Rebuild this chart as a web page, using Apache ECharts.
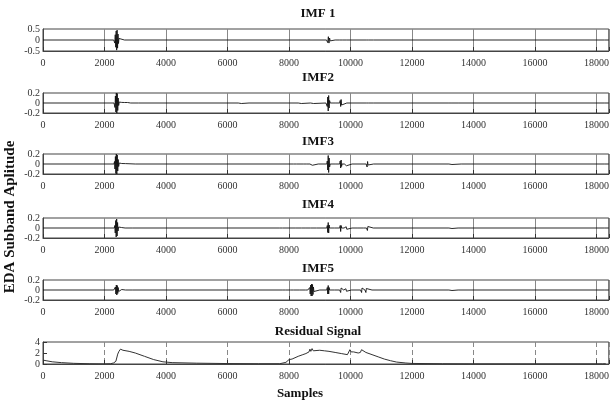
<!DOCTYPE html>
<html>
<head>
<meta charset="utf-8">
<script src="https://cdn.jsdelivr.net/npm/echarts@6/dist/echarts.min.js"></script>
<style>
  html, body { margin: 0; padding: 0; background: #fff; }
  #chart { width: 612px; height: 401px; }
</style>
</head>
<body>
<div id="chart"></div>
<script>
// sub-plot titles
const panelTitles = ["IMF 1", "IMF2", "IMF3", "IMF4", "IMF5", "Residual Signal"];
const xTicks = [0, 2000, 4000, 6000, 8000, 10000, 12000, 14000, 16000, 18000];

// [sample, amplitude]
const imf1 = [
  [0, 0], [2300, 0], [2320, 0.06], [2335, -0.14], [2350, 0.24], [2365, -0.33], [2380, 0.41], [2395, -0.46],
  [2410, 0.45], [2425, -0.37], [2440, 0.27], [2455, -0.16], [2470, 0.07], [2490, 0], [2650, 0],
  [9220, 0], [9240, 0.06], [9260, -0.12], [9280, 0.15], [9300, -0.14], [9320, 0.09], [9340, -0.04], [9360, 0], [9500, 0],
  [9650, 0], [9670, 0.08], [9690, -0.09], [9710, 0.06], [9730, 0], [9880, 0],
  [10510, 0], [10530, 0.06], [10550, -0.06], [10570, 0.03], [10590, 0], [10750, 0],
  [18260, 0], [18280, 0.06], [18300, -0.06], [18320, 0], [18400, 0]
];
const imf2 = [
  [0, 0], [2310, 0], [2325, 0.04], [2340, -0.09], [2355, 0.14], [2370, -0.18], [2385, 0.2], [2400, -0.2],
  [2415, 0.19], [2430, -0.15], [2445, 0.1], [2460, -0.05], [2480, 0.02], [2500, 0], [2550, 0.012],
  [2600, -0.012], [2650, 0.01], [2700, -0.01], [2750, 0.01], [2800, -0.008], [2850, 0], [3100, 0],
  [6350, 0], [6400, 0.012], [6450, -0.01], [6500, 0], [6700, 0],
  [8300, 0], [8350, 0.01], [8400, -0.01], [8450, 0], [8700, 0], [8750, 0.01], [8800, -0.01], [8850, 0], [9200, 0],
  [9230, 0.03], [9245, -0.07], [9260, 0.12], [9275, -0.16], [9290, 0.15], [9305, -0.1], [9320, 0.05], [9340, 0], [9500, 0],
  [9650, 0], [9665, 0.05], [9680, -0.07], [9695, 0.07], [9710, -0.04], [9725, 0], [9880, 0],
  [10510, 0], [10530, 0.03], [10550, -0.035], [10570, 0.02], [10590, 0], [10740, 0],
  [13200, 0], [13250, 0.008], [13300, 0], [13500, 0],
  [18270, 0], [18290, 0.02], [18310, -0.02], [18330, 0], [18400, 0]
];
const imf3 = [
  [0, 0], [2310, 0], [2325, 0.05], [2340, -0.1], [2355, 0.15], [2370, -0.19], [2385, 0.2], [2400, -0.2],
  [2415, 0.18], [2430, -0.14], [2445, 0.09], [2460, -0.05], [2480, 0.02], [2500, 0], [2560, 0.01],
  [2620, -0.01], [2680, 0.008], [2740, 0], [3000, 0],
  [8150, 0], [8180, 0.012], [8210, -0.012], [8240, 0], [8480, 0], [8500, 0.02], [8520, -0.02], [8540, 0.015], [8560, 0],
  [8680, 0], [8700, 0.03], [8720, -0.035], [8740, 0.03], [8760, -0.025], [8780, 0], [8950, 0],
  [9230, 0], [9245, 0.06], [9260, -0.12], [9275, 0.17], [9290, -0.17], [9305, 0.12], [9320, -0.06], [9340, 0], [9500, 0],
  [9650, 0], [9665, 0.06], [9680, -0.08], [9695, 0.08], [9710, -0.05], [9725, 0], [9800, 0],
  [9830, 0], [9850, 0.035], [9870, -0.035], [9890, 0], [10050, 0],
  [10510, 0], [10525, 0.04], [10540, -0.06], [10555, 0.05], [10570, -0.02], [10585, 0], [10750, 0],
  [13200, 0], [13250, 0.01], [13300, -0.01], [13350, 0], [13600, 0],
  [18270, 0], [18290, 0.02], [18310, -0.02], [18330, 0], [18400, 0]
];
const imf4 = [
  [0, 0], [2320, 0], [2335, 0.05], [2350, -0.1], [2365, 0.15], [2380, -0.18], [2395, 0.18], [2410, -0.16],
  [2425, 0.11], [2440, -0.06], [2460, 0.02], [2480, 0], [2550, 0.01], [2610, -0.01], [2670, 0], [2900, 0],
  [7700, 0], [7730, 0.012], [7760, -0.012], [7790, 0], [8000, 0],
  [8200, 0], [8220, 0.02], [8240, -0.02], [8260, 0], [8400, 0], [8420, 0.02], [8440, -0.02], [8460, 0],
  [8550, 0], [8570, 0.02], [8590, -0.02], [8610, 0], [8700, 0], [8720, 0.025], [8740, -0.025], [8760, 0], [8900, 0],
  [9230, 0], [9245, 0.05], [9260, -0.09], [9275, 0.11], [9290, -0.1], [9305, 0.06], [9320, 0], [9480, 0],
  [9650, 0], [9665, 0.05], [9680, -0.07], [9695, 0.05], [9710, 0], [9790, 0],
  [9840, 0], [9860, 0.025], [9880, -0.025], [9900, 0], [10050, 0],
  [10240, 0], [10260, 0.025], [10280, -0.025], [10300, 0], [10420, 0],
  [10520, 0], [10535, 0.04], [10550, -0.05], [10565, 0.03], [10580, 0], [10740, 0],
  [13200, 0], [13250, 0.01], [13300, -0.01], [13350, 0], [13500, 0],
  [18270, 0], [18290, 0.015], [18310, -0.015], [18330, 0], [18400, 0]
];
const imf5 = [
  [0, 0], [2300, 0], [2320, 0.02], [2340, -0.04], [2355, 0.06], [2370, -0.08], [2385, 0.1], [2400, -0.1],
  [2415, 0.09], [2430, -0.07], [2445, 0.05], [2460, -0.03], [2480, 0.01], [2500, 0], [2560, 0.01], [2620, -0.01], [2680, 0], [2900, 0],
  [7800, 0], [7830, 0.012], [7860, -0.012], [7890, 0], [8050, 0],
  [8150, 0], [8170, 0.02], [8190, -0.02], [8210, 0], [8350, 0], [8370, 0.02], [8390, -0.02], [8410, 0],
  [8530, 0], [8550, 0.025], [8570, -0.03], [8590, 0.02], [8610, 0],
  [8660, 0], [8675, 0.05], [8690, -0.08], [8705, 0.1], [8720, -0.12], [8735, 0.12], [8750, -0.12],
  [8765, 0.11], [8780, -0.09], [8795, 0.06], [8810, -0.03], [8830, 0], [9000, 0],
  [9230, 0], [9245, 0.05], [9260, -0.08], [9275, 0.09], [9290, -0.08], [9305, 0.05], [9320, 0], [9480, 0],
  [9650, 0], [9665, 0.04], [9680, -0.05], [9695, 0.04], [9710, 0], [9780, 0],
  [9830, 0], [9850, 0.025], [9870, -0.025], [9890, 0], [10030, 0],
  [10330, 0], [10345, 0.04], [10360, -0.05], [10375, 0.04], [10390, 0], [10440, 0],
  [10470, 0], [10485, 0.04], [10500, -0.05], [10515, 0.03], [10530, 0], [10700, 0],
  [13200, 0], [13250, 0.01], [13300, -0.01], [13350, 0], [13500, 0],
  [18270, 0], [18290, 0.015], [18310, -0.015], [18330, 0], [18400, 0]
];
const residual = [
  [0, 0.7], [100, 0.6], [300, 0.4], [600, 0.25], [1000, 0.12], [1500, 0.05], [2000, 0.02], [2200, 0.05],
  [2300, 0.2], [2370, 0.5], [2400, 0.6], [2430, 1.8], [2470, 2.3], [2520, 2.7], [2560, 2.4], [2600, 2.5],
  [2800, 2.3], [3000, 2.0], [3300, 1.4], [3600, 0.8], [3900, 0.4], [4200, 0.25], [5000, 0.15], [6000, 0.08],
  [7000, 0.05], [7700, 0.05], [7900, 0.3], [8000, 0.8], [8100, 0.9], [8150, 1.2], [8300, 1.4], [8450, 1.7],
  [8550, 1.9], [8650, 2.2], [8680, 2.7], [8710, 2.3], [8750, 2.8], [8790, 2.4], [8850, 2.6], [9000, 2.5],
  [9150, 2.4], [9300, 2.3], [9500, 2.1], [9700, 1.9], [9900, 1.7], [9950, 1.8], [9980, 2.6], [10020, 2.2],
  [10100, 2.2], [10250, 2.0], [10320, 2.1], [10360, 2.6], [10420, 2.3], [10500, 2.1], [10700, 1.7],
  [10900, 1.3], [11100, 0.9], [11300, 0.6], [11500, 0.35], [11800, 0.18], [12000, 0.1], [13000, 0.05],
  [14000, 0.03], [16000, 0.02], [18200, 0.02], [18300, 0.05]
];
const panelData = [imf1, imf2, imf3, imf4, imf5, residual];
const yRanges = [[-0.5, 0.5, 0.5], [-0.2, 0.2, 0.2], [-0.2, 0.2, 0.2], [-0.2, 0.2, 0.2], [-0.2, 0.2, 0.2], [0, 4, 2]];

const serif = '"Liberation Serif", "DejaVu Serif", serif';
const gridTops = [29, 93, 154, 218, 280, 342];
const gridHeights = [22, 20, 20, 20, 20, 22];
const titleY = [14, 78, 142, 205, 269, 332];

let myChart = echarts.init(document.getElementById("chart"));

let grids = [], xAxes = [], yAxes = [], series = [], texts = [];
panelData.forEach(function (d, i) {
  grids.push({
    left: 43, width: 567, top: gridTops[i], height: gridHeights[i],
    show: true, borderColor: "#444", borderWidth: 1
  });
  xAxes.push({
    type: "value", gridIndex: i, min: 0, max: 18400, interval: 2000,
    axisLine: { show: true, onZero: false, lineStyle: { color: "#444" } },
    axisTick: { show: true, inside: true, length: 4, lineStyle: { color: "#333" } },
    splitLine: {
      show: true,
      lineStyle: { color: "#888", width: 1, type: i === 5 ? [5, 3] : "solid" }
    },
    axisLabel: {
      margin: 7, fontSize: 10, color: "#333", fontFamily: serif,
      formatter: function (v) { return xTicks.indexOf(v) >= 0 ? String(v) : ""; }
    }
  });
  yAxes.push({
    type: "value", gridIndex: i,
    min: yRanges[i][0], max: yRanges[i][1], interval: yRanges[i][2],
    axisLine: { show: true, onZero: false, lineStyle: { color: "#444" } },
    axisTick: { show: i === 5, inside: true, length: 4, lineStyle: { color: "#333" } },
    splitLine: { show: false },
    axisLabel: { margin: 3, fontSize: 10, color: "#333", fontFamily: serif }
  });
  series.push({
    type: "line", xAxisIndex: i, yAxisIndex: i, data: d,
    showSymbol: false, symbol: "none",
    lineStyle: { color: i === 5 ? "#333" : "#111", width: i === 5 ? 1 : 0.9 }
  });
  texts.push({
    type: "text", x: 318, y: titleY[i],
    style: {
      text: panelTitles[i], font: "bold 13px " + serif, fill: "#111",
      textAlign: "center", textVerticalAlign: "middle"
    }
  });
});

texts.push({
  type: "text", x: 300, y: 394,
  style: { text: "Samples", font: "bold 13px " + serif, fill: "#111", textAlign: "center", textVerticalAlign: "middle" }
});
texts.push({
  type: "text", x: 10, y: 217, rotation: Math.PI / 2,
  style: { text: "EDA Subband Aplitude", font: "bold 15px " + serif, fill: "#111", textAlign: "center", textVerticalAlign: "middle" }
});

const option = {
  animation: false,
  backgroundColor: "#fff",
  grid: grids,
  xAxis: xAxes,
  yAxis: yAxes,
  series: series,
  graphic: texts
};

myChart.setOption(option);

window.addEventListener("resize", function () {
  myChart.resize();
});
</script>
</body>
</html>
